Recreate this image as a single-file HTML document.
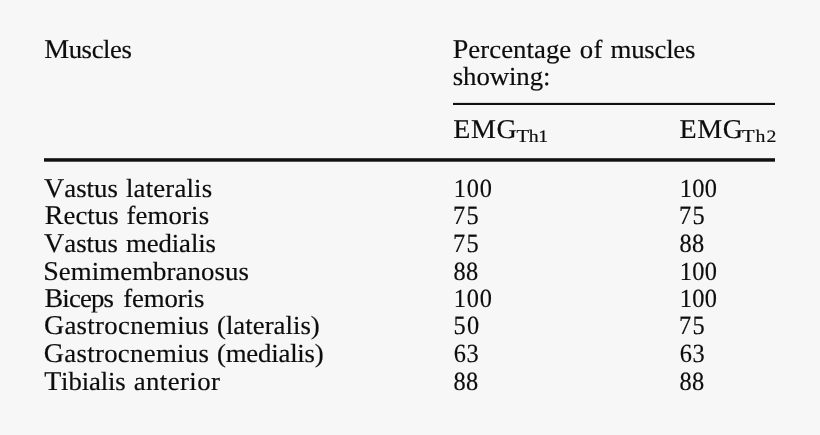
<!DOCTYPE html>
<html>
<head>
<meta charset="utf-8">
<title>Table</title>
<style>
html,body{margin:0;padding:0;}
body{width:820px;height:435px;background:#f7f7f7;overflow:hidden;}
svg{position:absolute;left:0;top:0;filter:grayscale(1) blur(0.3px);}
text{font-family:"Liberation Serif",serif;fill:#0d0d0d;font-kerning:none;font-feature-settings:"kern" 0,"liga" 0;white-space:pre;text-rendering:geometricPrecision;stroke:#0d0d0d;stroke-width:0.18px;}
</style>
</head>
<body>
<svg width="820" height="435" viewBox="0 0 820 435">
<rect x="453" y="102.9" width="322" height="2.1" fill="#111"/>
<rect x="44" y="158.2" width="731" height="3.5" fill="#111"/>
<text font-size="26" transform="translate(44.16 57.7) scale(1.03 1)" letter-spacing="-0.408"><tspan font-size="27.2">M</tspan>uscles</text>
<text font-size="26" transform="translate(452.76 57.7) scale(1.03 1)" letter-spacing="0.03"><tspan font-size="27.2">P</tspan>ercentage</text>
<text font-size="26" transform="translate(579.76 57.7) scale(1.03 1)" letter-spacing="0.331">of</text>
<text font-size="26" transform="translate(610.58 57.7) scale(1.03 1)" letter-spacing="-0.236">muscles</text>
<text font-size="26" transform="translate(452.76 85.4) scale(1.03 1)" letter-spacing="-0.078">showing:</text>
<text font-size="27.2" transform="translate(453.16 137.8) scale(1.03 1)" letter-spacing="0.638">EMG</text>
<text font-size="17.5" transform="translate(516.48 142.1) scale(1.13 1)" letter-spacing="-0.335"><tspan font-size="18.3">T</tspan>h1</text>
<text font-size="27.2" transform="translate(679.56 137.8) scale(1.03 1)" letter-spacing="0.541">EMG</text>
<text font-size="17.5" transform="translate(741.88 142.1) scale(1.13 1)" letter-spacing="0.904"><tspan font-size="18.3">T</tspan>h2</text>
<text font-size="26" transform="translate(44 196.6) scale(1.03 1)" letter-spacing="0.02"><tspan font-size="27.2">V</tspan>astus</text>
<text font-size="26" transform="translate(125.98 196.6) scale(1.03 1)" letter-spacing="0.165">lateralis</text>
<text font-size="26.2" transform="translate(453.7 196.6) scale(0.93 1)" letter-spacing="0.976">100</text>
<text font-size="26.2" transform="translate(679.8 196.6) scale(0.93 1)" letter-spacing="0.385">100</text>
<text font-size="26" transform="translate(44.86 224) scale(1.03 1)" letter-spacing="0.005"><tspan font-size="27.2">R</tspan>ectus</text>
<text font-size="26" transform="translate(126.58 224) scale(1.03 1)" letter-spacing="0.115">femoris</text>
<text font-size="26.2" transform="translate(452.88 224) scale(0.93 1)" letter-spacing="1.418">75</text>
<text font-size="26.2" transform="translate(678.88 224) scale(0.93 1)" letter-spacing="1.418">75</text>
<text font-size="26" transform="translate(44 252) scale(1.03 1)" letter-spacing="0.02"><tspan font-size="27.2">V</tspan>astus</text>
<text font-size="26" transform="translate(125.98 252) scale(1.03 1)" letter-spacing="-0.1">medialis</text>
<text font-size="26.2" transform="translate(452.88 252) scale(0.93 1)" letter-spacing="1.418">75</text>
<text font-size="26.2" transform="translate(679.54 252) scale(0.93 1)" letter-spacing="0.384">88</text>
<text font-size="26" transform="translate(43.15 279.8) scale(1.03 1)" letter-spacing="0.087"><tspan font-size="27.2">S</tspan>emimembranosus</text>
<text font-size="26.2" transform="translate(453.54 279.8) scale(0.93 1)" letter-spacing="0.384">88</text>
<text font-size="26.2" transform="translate(679.8 279.8) scale(0.93 1)" letter-spacing="0.385">100</text>
<text font-size="26" transform="translate(44.46 307) scale(1.03 1)" letter-spacing="-0.83"><tspan font-size="27.2">B</tspan>iceps</text>
<text font-size="26" transform="translate(123.18 307) scale(1.03 1)" letter-spacing="-0.111">femoris</text>
<text font-size="26.2" transform="translate(453.7 307) scale(0.93 1)" letter-spacing="0.976">100</text>
<text font-size="26.2" transform="translate(679.8 307) scale(0.93 1)" letter-spacing="0.385">100</text>
<text font-size="26" transform="translate(43.92 334.3) scale(1.03 1)" letter-spacing="0.286"><tspan font-size="27.2">G</tspan>astrocnemius</text>
<text font-size="26" transform="translate(216.96 334.3) scale(1.03 1)" letter-spacing="0.02">(lateralis)</text>
<text font-size="26.2" transform="translate(453.56 334.3) scale(0.93 1)" letter-spacing="1.438">50</text>
<text font-size="26.2" transform="translate(678.88 334.3) scale(0.93 1)" letter-spacing="1.418">75</text>
<text font-size="26" transform="translate(43.72 362.3) scale(1.03 1)" letter-spacing="0.303"><tspan font-size="27.2">G</tspan>astrocnemius</text>
<text font-size="26" transform="translate(216.96 362.3) scale(1.03 1)" letter-spacing="-0.191">(medialis)</text>
<text font-size="26.2" transform="translate(453.74 362.3) scale(0.93 1)" letter-spacing="0.599">63</text>
<text font-size="26.2" transform="translate(679.74 362.3) scale(0.93 1)" letter-spacing="0.599">63</text>
<text font-size="26" transform="translate(44.16 390) scale(1.03 1)" letter-spacing="-0.144"><tspan font-size="27.2">T</tspan>ibialis</text>
<text font-size="26" transform="translate(133.76 390) scale(1.03 1)" letter-spacing="0.402">anterior</text>
<text font-size="26.2" transform="translate(453.54 390) scale(0.93 1)" letter-spacing="0.384">88</text>
<text font-size="26.2" transform="translate(679.54 390) scale(0.93 1)" letter-spacing="0.384">88</text>
</svg>
</body>
</html>
